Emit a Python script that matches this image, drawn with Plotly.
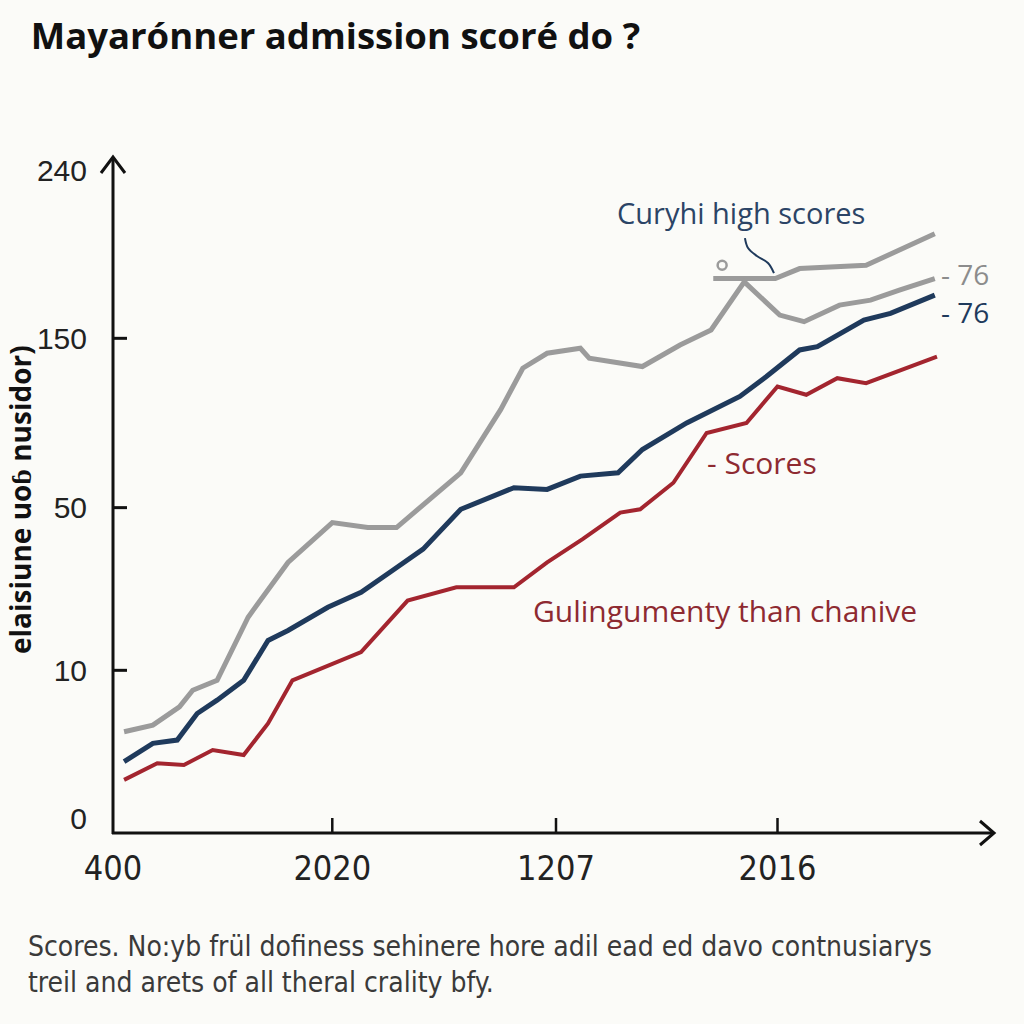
import plotly.graph_objects as go

# ---- data (axis units: x ticks at 0..3, y ticks at ordinal positions) ----
x_tick_vals = [0.0, 0.99, 2.0, 3.0]
x_tick_text = ["400", "2020", "1207", "2016"]
y_tick_vals = [0.09, 0.98, 1.96, 2.98, 3.99]
y_tick_text = ["0", "10", "50", "150", "240"]

gray_x = [0.05, 0.18, 0.30, 0.36, 0.47, 0.61, 0.79, 0.99, 1.15, 1.28, 1.57, 1.75, 1.85,
          1.96, 2.11, 2.15, 2.39, 2.56, 2.70, 2.85, 3.01, 3.12, 3.28, 3.42, 3.55, 3.71]
gray_y = [0.61, 0.65, 0.76, 0.86, 0.92, 1.30, 1.63, 1.87, 1.84, 1.84, 2.17, 2.55, 2.80,
          2.89, 2.92, 2.86, 2.81, 2.94, 3.03, 3.32, 3.12, 3.08, 3.18, 3.21, 3.27, 3.34]

blue_x = [0.05, 0.18, 0.29, 0.38, 0.47, 0.59, 0.70, 0.79, 0.97, 1.12, 1.26, 1.40, 1.57, 1.64,
          1.81, 1.96, 2.11, 2.28, 2.39, 2.59, 2.83, 2.95, 3.10, 3.18, 3.39, 3.51, 3.71]
blue_y = [0.43, 0.54, 0.56, 0.72, 0.80, 0.92, 1.16, 1.22, 1.36, 1.45, 1.58, 1.71, 1.95, 1.99,
          2.08, 2.07, 2.15, 2.17, 2.31, 2.47, 2.63, 2.75, 2.91, 2.93, 3.09, 3.13, 3.24]

red_x = [0.05, 0.20, 0.32, 0.45, 0.59, 0.70, 0.81, 0.99, 1.12, 1.33, 1.55, 1.81, 1.96, 2.12,
         2.29, 2.38, 2.53, 2.68, 2.86, 3.00, 3.13, 3.27, 3.40, 3.72]
red_y = [0.32, 0.42, 0.41, 0.50, 0.47, 0.66, 0.92, 1.02, 1.09, 1.40, 1.48, 1.48, 1.63, 1.77,
         1.93, 1.95, 2.11, 2.41, 2.47, 2.69, 2.64, 2.74, 2.71, 2.87]

high_x = [2.71, 2.99, 3.10, 3.40, 3.71]
high_y = [3.34, 3.34, 3.40, 3.42, 3.61]

callout_x = [2.853, 2.867, 2.907, 2.957, 2.984]
callout_y = [3.584, 3.524, 3.476, 3.434, 3.373]

marker_x = [2.75]
marker_y = [3.42]

title_text = "Mayarónner admission scoré do ?"
y_title = "elaisiune uoɓ nusidor)"
footer_text = ("Scores. No:yb frül dofiness sehinere hore adil ead ed davo contnusiarys<br>"
               "treil and arets of all theral crality bfy.")

GRAY = "#9b9b9b"
NAVY = "#1f3a5c"
RED = "#a3252f"
BG = "#fbfbf8"

# plot area in page pixels and axis unit sizes
L, R, T, B = 100, 1005, 150, 836
X0PX, Y0PX = 113, 833     # pixel position of axis origin
ux, uy = 221.5, 166.0


def px(xp):
    return (xp - L) / (R - L)


def py(yp):
    return (B - yp) / (B - T)


fig = go.Figure()
fig.add_trace(go.Scatter(x=high_x, y=high_y, mode="lines",
                         line=dict(color=GRAY, width=5), hoverinfo="skip"))
fig.add_trace(go.Scatter(x=gray_x, y=gray_y, mode="lines",
                         line=dict(color=GRAY, width=5), hoverinfo="skip"))
fig.add_trace(go.Scatter(x=blue_x, y=blue_y, mode="lines",
                         line=dict(color=NAVY, width=5), hoverinfo="skip"))
fig.add_trace(go.Scatter(x=red_x, y=red_y, mode="lines",
                         line=dict(color=RED, width=4), hoverinfo="skip"))
fig.add_trace(go.Scatter(x=callout_x, y=callout_y, mode="lines",
                         line=dict(color=NAVY, width=2, shape="spline"), hoverinfo="skip"))
fig.add_trace(go.Scatter(x=marker_x, y=marker_y, mode="markers",
                         marker=dict(symbol="circle-open", size=9, color=GRAY,
                                     line=dict(width=2.5, color=GRAY)), hoverinfo="skip"))

shapes = []
axis_line = dict(color="#111111", width=3)
# y axis line and arrow
shapes.append(dict(type="line", xref="paper", yref="paper", x0=px(113), y0=py(834),
                   x1=px(113), y1=py(157), line=axis_line))
shapes.append(dict(type="path", xref="paper", yref="paper",
                   path=f"M {px(101)},{py(173)} L {px(113)},{py(157)} L {px(125)},{py(173)}",
                   line=axis_line))
# x axis line and arrow
shapes.append(dict(type="line", xref="paper", yref="paper", x0=px(112), y0=py(833),
                   x1=px(993), y1=py(833), line=axis_line))
shapes.append(dict(type="path", xref="paper", yref="paper",
                   path=f"M {px(980)},{py(821)} L {px(994)},{py(833)} L {px(980)},{py(845)}",
                   line=axis_line))
# y tick marks (inside)
for yv in y_tick_vals[1:4]:
    yp = Y0PX - yv * uy
    shapes.append(dict(type="line", xref="paper", yref="paper", x0=px(113), x1=px(127),
                       y0=py(yp), y1=py(yp), line=axis_line))
# x tick marks (inside)
for xv in x_tick_vals[1:]:
    xp = X0PX + xv * ux
    shapes.append(dict(type="line", xref="paper", yref="paper", x0=px(xp), x1=px(xp),
                       y0=py(833), y1=py(818), line=dict(color="#111111", width=2.5)))

annotations = [
    dict(x=2.835, y=3.735, xref="x", yref="y", text="Curyhi high scores", showarrow=False,
         font=dict(family="Open Sans", size=29, color="#2b4466")),
    dict(x=3.734, y=3.37, xref="x", yref="y", text="- 76", showarrow=False, xanchor="left",
         yanchor="middle", borderpad=0,
         font=dict(family="Open Sans", size=28, color="#8c8c8c")),
    dict(x=3.734, y=3.14, xref="x", yref="y", text="- 76", showarrow=False, xanchor="left",
         yanchor="middle", borderpad=0,
         font=dict(family="Open Sans", size=28, color=NAVY)),
    dict(x=2.673, y=2.229, xref="x", yref="y", text="- Scores", showarrow=False, xanchor="left",
         font=dict(family="Open Sans", size=30, color="#8e2a31")),
    dict(x=2.763, y=1.343, xref="x", yref="y", text="Gulingumenty than chanive", showarrow=False,
         font=dict(family="Open Sans", size=30, color="#8e2a31")),
    dict(x=px(26), y=py(964), xref="paper", yref="paper", text=footer_text, showarrow=False,
         xanchor="left", yanchor="middle", align="left",
         font=dict(family="Liberation Sans Narrow, DejaVu Sans Condensed, sans-serif",
                   size=28, color="#3a3a3a")),
    dict(x=px(20), y=py(500), xref="paper", yref="paper", text=y_title, showarrow=False,
         textangle=-90, xanchor="center", yanchor="middle", borderpad=0,
         font=dict(family="Open Sans", size=28, color="#111111", weight="bold")),
]

fig.update_layout(
    width=1024, height=1024,
    margin=dict(l=L, r=1024 - R, t=T, b=1024 - B),
    paper_bgcolor=BG, plot_bgcolor=BG,
    showlegend=False,
    title=dict(text=title_text, x=0.03, xanchor="left", y=1 - 36 / 1024, yanchor="middle",
               xref="container", yref="container",
               font=dict(family="Open Sans", size=36.5, color="#111111", weight="bold")),
    xaxis=dict(range=[(L - X0PX) / ux, (R - X0PX) / ux], showgrid=False, zeroline=False,
               showline=False, tickmode="array", tickvals=x_tick_vals, ticktext=x_tick_text,
               ticks="outside", ticklen=2, tickcolor="rgba(0,0,0,0)",
               tickfont=dict(family="Liberation Sans Narrow, DejaVu Sans Condensed, sans-serif",
                             size=34, color="#222222")),
    yaxis=dict(range=[(Y0PX - B) / uy, (Y0PX - T) / uy], showgrid=False, zeroline=False,
               showline=False, tickmode="array", tickvals=y_tick_vals, ticktext=y_tick_text,
               ticks="outside", ticklen=6, tickcolor="rgba(0,0,0,0)",
               tickfont=dict(family="Liberation Sans, Arial, sans-serif", size=30,
                             color="#222222")),
    shapes=shapes,
    annotations=annotations,
)

fig.write_html("out.html")
